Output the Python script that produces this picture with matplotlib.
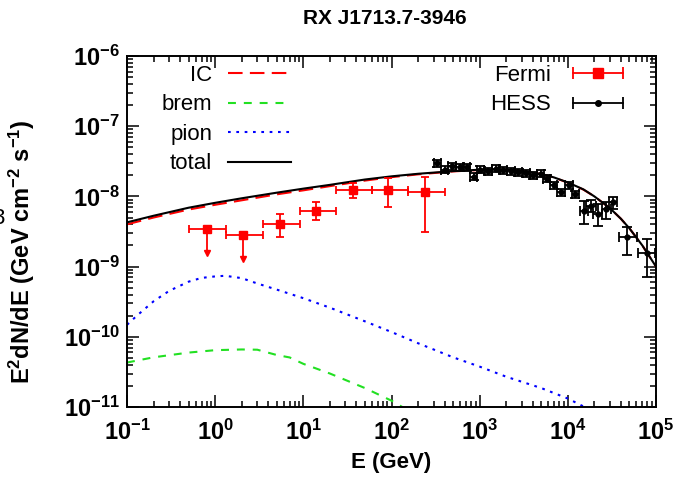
import numpy as np
import matplotlib
matplotlib.use("Agg")
import matplotlib.pyplot as plt
from matplotlib.lines import Line2D
from matplotlib.legend_handler import HandlerLine2D, HandlerTuple
from matplotlib.ticker import LogLocator, NullFormatter

plt.rcParams["font.family"] = ["Liberation Sans", "DejaVu Sans"]
plt.rcParams["mathtext.default"] = "regular"

# model curves, E in GeV, E^2 dN/dE in GeV cm^-2 s^-1
E_model = [0.1, 0.2, 0.5, 1, 2, 5, 10, 20, 50, 100, 200, 500, 1e3, 2e3, 3e3,
           5e3, 7e3, 1e4, 1.5e4, 2e4, 3e4, 4e4, 5e4, 7e4, 1e5]
F_total = [4.27e-9, 5.3e-9, 6.9e-9, 8.1e-9, 9.4e-9, 1.13e-8, 1.29e-8, 1.46e-8,
           1.74e-8, 1.93e-8, 2.1e-8, 2.29e-8, 2.4e-8, 2.41e-8, 2.3e-8, 2.09e-8,
           1.86e-8, 1.58e-8, 1.26e-8, 1.0e-8, 6.8e-9, 4.8e-9, 3.5e-9, 2.0e-9, 1.0e-9]
F_ic = [4.0e-9, 5.0e-9, 6.5e-9, 7.6e-9, 8.8e-9, 1.07e-8, 1.22e-8, 1.40e-8,
        1.68e-8, 1.88e-8, 2.06e-8, 2.27e-8, 2.38e-8, 2.40e-8, 2.29e-8, 2.08e-8,
        1.85e-8, 1.57e-8, 1.25e-8, 1.0e-8, 6.8e-9, 4.8e-9, 3.5e-9, 2.0e-9, 1.0e-9]

E_pion = [0.1, 0.13, 0.2, 0.3, 0.5, 0.7, 1, 1.3, 2, 3, 5, 10, 20, 50, 100, 200,
          500, 1e3, 2e3, 5e3, 1e4, 1.5e4, 2e4]
F_pion = [1.48e-10, 2.01e-10, 3.2e-10, 4.5e-10, 6.1e-10, 6.9e-10, 7.25e-10,
          7.4e-10, 6.85e-10, 5.75e-10, 4.7e-10, 3.55e-10, 2.6e-10, 1.66e-10,
          1.17e-10, 8.1e-11, 5.1e-11, 3.76e-11, 2.7e-11, 1.86e-11, 1.32e-11,
          1.02e-11, 8.0e-12]

E_brem = [0.1, 0.2, 0.5, 1, 2, 3, 5, 7, 10, 20, 50, 100, 200]
F_brem = [4.3e-11, 5.1e-11, 5.96e-11, 6.45e-11, 6.6e-11, 6.55e-11, 5.5e-11,
          5.08e-11, 4.12e-11, 3.0e-11, 1.86e-11, 1.23e-11, 7.4e-12]

# Fermi-LAT points (first two are upper limits)
fermi_E = [0.80, 2.08, 5.43, 14.1, 36.4, 90.8, 239]
fermi_Elo = [0.505, 1.32, 3.46, 9.2, 23.4, 60.4, 155]
fermi_Ehi = [1.32, 3.46, 9.2, 23.4, 60.4, 155, 400]
fermi_F = [3.42e-9, 2.8e-9, 4.08e-9, 6.2e-9, 1.25e-8, 1.25e-8, 1.14e-8]
fermi_Flo = [3.42e-9, 2.8e-9, 2.62e-9, 4.6e-9, 9.5e-9, 7.1e-9, 3.09e-9]
fermi_Fhi = [3.42e-9, 2.8e-9, 5.7e-9, 8.2e-9, 1.54e-8, 1.84e-8, 1.88e-8]
fermi_ul = [True, True, False, False, False, False, False]
fermi_ul_tip = [1.55e-9, 1.29e-9]

# H.E.S.S. points
hess_E = [329, 400, 486, 597, 713, 852, 1018, 1248, 1517, 1845, 2263, 2754,
          3378, 4038, 4910, 5760, 6890, 8380, 1.03e4, 1.22e4, 1.53e4, 1.83e4,
          2.18e4, 2.72e4, 3.25e4, 4.72e4, 7.9e4]
hess_F = [2.99e-8, 2.4e-8, 2.71e-8, 2.62e-8, 2.62e-8, 1.92e-8, 2.4e-8, 2.29e-8,
          2.48e-8, 2.34e-8, 2.29e-8, 2.22e-8, 2.15e-8, 1.99e-8, 2.1e-8, 1.78e-8,
          1.43e-8, 1.14e-8, 1.43e-8, 1.08e-8, 6.2e-9, 7.3e-9, 5.6e-9, 6.6e-9,
          8.2e-9, 2.62e-9, 1.55e-9]
hess_Elo = [300, 364, 442, 543, 649, 775, 926, 1136, 1380, 1679, 2059, 2506,
            3074, 3675, 4468, 5242, 6270, 7626, 9370, 1.11e4, 1.36e4, 1.62e4,
            1.93e4, 2.42e4, 2.9e4, 3.78e4, 6.3e4]
hess_Ehi = [362, 440, 535, 657, 784, 937, 1120, 1373, 1669, 2030, 2489, 3029,
            3716, 4442, 5401, 6336, 7579, 9218, 1.13e4, 1.34e4, 1.71e4, 2.06e4,
            2.45e4, 3.06e4, 3.65e4, 6.05e4, 9.8e4]
hess_Flo = [2.66e-8, 2.14e-8, 2.41e-8, 2.33e-8, 2.33e-8, 1.71e-8, 2.14e-8,
            2.04e-8, 2.21e-8, 2.08e-8, 2.04e-8, 1.98e-8, 1.91e-8, 1.77e-8,
            1.87e-8, 1.58e-8, 1.27e-8, 1.01e-8, 1.27e-8, 9.6e-9, 4.08e-9, 5.9e-9,
            3.77e-9, 4.7e-9, 6.6e-9, 1.48e-9, 7.1e-10]
hess_Fhi = [3.35e-8, 2.69e-8, 3.04e-8, 2.93e-8, 2.93e-8, 2.15e-8, 2.69e-8,
            2.56e-8, 2.78e-8, 2.62e-8, 2.56e-8, 2.49e-8, 2.41e-8, 2.23e-8,
            2.35e-8, 1.99e-8, 1.6e-8, 1.28e-8, 1.6e-8, 1.21e-8, 8.66e-9, 8.85e-9,
            7.75e-9, 8.2e-9, 9.9e-9, 3.65e-9, 2.5e-9]

C_IC, C_BREM, C_PION = "#ff0000", "#22e022", "#0000ff"
FS = 16

fig = plt.figure(figsize=(6.82, 4.83), dpi=100)
ax = fig.add_axes([127 / 682, 1 - 407 / 483, 529 / 682, 351 / 483])
ax.set_xscale("log")
ax.set_yscale("log")

l_ic, = ax.plot(E_model, F_ic, color=C_IC, lw=1.5, dashes=(7, 3.5))
l_brem, = ax.plot(E_brem, F_brem, color=C_BREM, lw=1.5, dashes=(3.8, 3.8))
l_pion, = ax.plot(E_pion, F_pion, color=C_PION, lw=1.5, dashes=(1.3, 2.7))
l_tot, = ax.plot(E_model, F_total, color="black", lw=1.5)

fE = np.array(fermi_E)
fF = np.array(fermi_F)
ax.errorbar(fE, fF,
            xerr=[fE - np.array(fermi_Elo), np.array(fermi_Ehi) - fE],
            yerr=[fF - np.array(fermi_Flo), np.array(fermi_Fhi) - fF],
            fmt="s", color=C_IC, ms=6, lw=1.3, capsize=3, capthick=1.3, zorder=4)
ul = np.array(fermi_ul)
ax.vlines(fE[ul], fF[ul], fermi_ul_tip, color=C_IC, lw=1.3, zorder=4)
ax.plot(fE[ul], fermi_ul_tip, "v", color=C_IC, ms=5, zorder=4)

hE = np.array(hess_E)
hF = np.array(hess_F)
ax.errorbar(hE, hF,
            xerr=[hE - np.array(hess_Elo), np.array(hess_Ehi) - hE],
            yerr=[hF - np.array(hess_Flo), np.array(hess_Fhi) - hF],
            fmt="o", color="black", ms=3.5, lw=1.3, capsize=3.5, capthick=1.3,
            zorder=5)

ax.set_xlim(0.1, 1e5)
ax.set_ylim(1e-11, 1e-6)

for axis in (ax.xaxis, ax.yaxis):
    axis.set_major_locator(LogLocator(base=10, numticks=20))
    axis.set_minor_locator(LogLocator(base=10, subs=np.arange(2, 10), numticks=20))
    axis.set_minor_formatter(NullFormatter())
ax.tick_params(which="both", direction="in", top=True, right=True, width=1.1)
ax.tick_params(which="major", length=8.5, labelsize=17)
ax.tick_params(which="minor", length=4.5)
ax.tick_params(axis="x", pad=9)
ax.tick_params(axis="y", pad=5)
for lab in ax.get_xticklabels() + ax.get_yticklabels():
    lab.set_fontweight("bold")
for s in ax.spines.values():
    s.set_linewidth(1.4)

ax.set_xlabel("E (GeV)", fontsize=FS, fontweight="bold", labelpad=5)
fig.text(22 / 682, 1 - 252 / 483, r"E$^2$dN/dE (GeV cm$^{-2}$ s$^{-1}$)",
         rotation=90, ha="center", va="center", fontsize=17, fontweight="bold")
fig.text(-0.011, 1 - 218 / 483, "3", ha="left", va="center", fontsize=FS)
fig.text(385 / 682, 1 - 18 / 483, "RX J1713.7-3946", ha="center", va="center",
         fontsize=15, fontweight="bold")

leg1 = ax.legend([l_ic, l_brem, l_pion, l_tot], ["IC", "brem", "pion", "total"],
                 loc="upper right", bbox_to_anchor=(291 / 682, 1 - 65 / 483),
                 bbox_transform=fig.transFigure, frameon=False, markerfirst=False,
                 fontsize=FS, handlelength=2.85, handletextpad=0.7,
                 labelspacing=0.38, borderpad=0, borderaxespad=0)
ax.add_artist(leg1)

# gnuplot-style keys: horizontal error bar with end caps and a centred marker
f_bar = Line2D([], [], color=C_IC, lw=1.3, marker="|", ms=9, mew=1.3)
f_pt = Line2D([], [], color=C_IC, ls="none", marker="s", ms=7)
h_bar = Line2D([], [], color="black", lw=1.3, marker="|", ms=9, mew=1.3)
h_pt = Line2D([], [], color="black", ls="none", marker="o", ms=4)
hmap = {f_pt: HandlerLine2D(numpoints=1), h_pt: HandlerLine2D(numpoints=1),
        f_bar: HandlerLine2D(numpoints=2), h_bar: HandlerLine2D(numpoints=2),
        tuple: HandlerTuple(ndivide=1)}
ax.legend([(f_bar, f_pt), (h_bar, h_pt)], ["Fermi", "HESS"], handler_map=hmap,
          loc="upper right", bbox_to_anchor=(630 / 682, 1 - 65 / 483),
          bbox_transform=fig.transFigure, frameon=False, markerfirst=False,
          fontsize=FS, handlelength=2.85, handletextpad=0.7,
          labelspacing=0.38, borderpad=0, borderaxespad=0)

fig.savefig("out.png", dpi=100)
